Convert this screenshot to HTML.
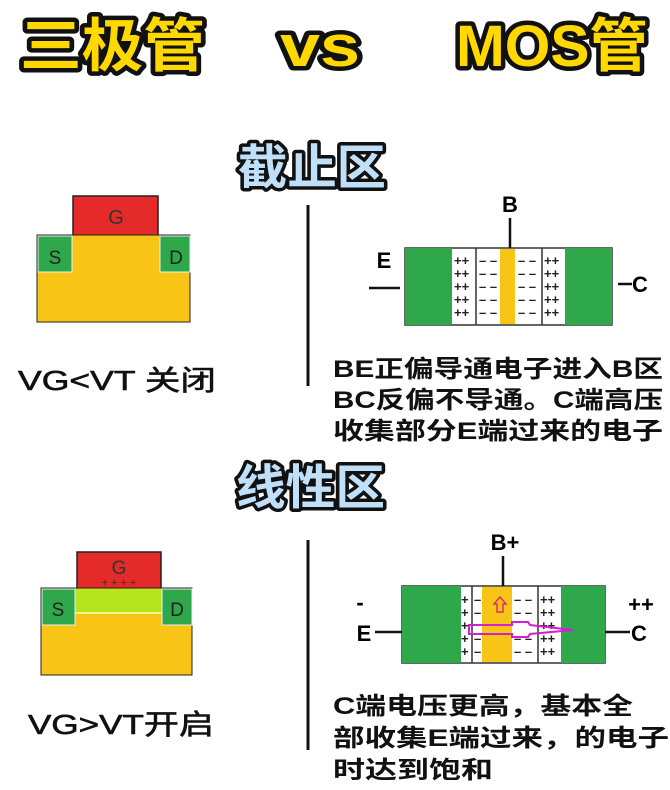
<!DOCTYPE html>
<html><head><meta charset="utf-8"><style>
html,body{margin:0;padding:0;background:#fff;}
svg{display:block;}
.t{font-family:"Liberation Sans","Noto Sans CJK SC",sans-serif;font-weight:bold;}
.cn{font-family:"Liberation Sans","Noto Sans CJK SC",sans-serif;}
</style></head><body>
<svg width="670" height="790" viewBox="0 0 670 790" xmlns="http://www.w3.org/2000/svg">
<rect width="670" height="790" fill="#fff"/>
<g class="t" font-size="58" fill="#FFD800" stroke="#111" stroke-width="9" stroke-linejoin="round" paint-order="stroke">
<text x="20" y="66" textLength="185" lengthAdjust="spacingAndGlyphs">三极管</text>
<text x="280" y="66" textLength="80" lengthAdjust="spacingAndGlyphs">vs</text>
<text x="456" y="66" textLength="192" lengthAdjust="spacingAndGlyphs">MOS管</text>
</g>
<g class="t" font-size="48" fill="#BFE0F8" stroke="#111" stroke-width="7" stroke-linejoin="round" paint-order="stroke">
<text x="238" y="184" textLength="148" lengthAdjust="spacingAndGlyphs">截止区</text>
<text x="236" y="504" textLength="149" lengthAdjust="spacingAndGlyphs">线性区</text>
</g>

<rect x="73" y="196" width="85" height="40" fill="#E52A2A" stroke="#222" stroke-width="1.5"/>
<text class="cn" x="116" y="224" font-size="20" text-anchor="middle" fill="#333">G</text>
<rect x="37" y="235" width="153" height="87" fill="#F8C416" stroke="#222" stroke-width="1"/>
<rect x="38" y="236" width="34" height="36" fill="#2EA84A" stroke="#eee" stroke-width="1"/>
<rect x="160" y="236" width="30" height="36" fill="#2EA84A" stroke="#eee" stroke-width="1"/>
<text class="cn" x="55" y="264" font-size="19" text-anchor="middle" fill="#222">S</text>
<text class="cn" x="176" y="264" font-size="19" text-anchor="middle" fill="#222">D</text>
<text class="cn" x="18" y="390" font-size="28" fill="#111" stroke="#111" stroke-width="0.6" textLength="198" lengthAdjust="spacingAndGlyphs">VG&lt;VT 关闭</text>

<line x1="308" y1="205" x2="308" y2="386" stroke="#111" stroke-width="3"/>

<rect x="405" y="248" width="207" height="77" fill="#fff" stroke="#333" stroke-width="1.5"/>
<rect x="405" y="248" width="47" height="77" fill="#2EA84A"/>
<rect x="565" y="248" width="47" height="77" fill="#2EA84A"/>
<rect x="500" y="249" width="15" height="75" fill="#F8C416"/>
<line x1="476" y1="248" x2="476" y2="325" stroke="#333" stroke-width="1.5"/>
<line x1="542" y1="248" x2="542" y2="325" stroke="#333" stroke-width="1.5"/>
<g font-family="Liberation Sans" font-weight="bold" font-size="13" fill="#222">
<text x="454" y="265">++</text><text x="454" y="278">++</text><text x="454" y="291">++</text><text x="454" y="304">++</text><text x="454" y="317">++</text>
<text x="544" y="265">++</text><text x="544" y="278">++</text><text x="544" y="291">++</text><text x="544" y="304">++</text><text x="544" y="317">++</text>
<text x="479" y="265">– –</text><text x="479" y="278">– –</text><text x="479" y="291">– –</text><text x="479" y="304">– –</text><text x="479" y="317">– –</text>
<text x="518" y="265">– –</text><text x="518" y="278">– –</text><text x="518" y="291">– –</text><text x="518" y="304">– –</text><text x="518" y="317">– –</text>
</g>
<line x1="510" y1="218" x2="510" y2="248" stroke="#111" stroke-width="2.5"/>
<text class="t" x="510" y="212" font-size="22" text-anchor="middle">B</text>
<text class="t" x="384" y="268" font-size="22" text-anchor="middle">E</text>
<line x1="369" y1="288" x2="400" y2="288" stroke="#111" stroke-width="2.5"/>
<line x1="618" y1="284" x2="632" y2="284" stroke="#111" stroke-width="2.5"/>
<text class="t" x="632" y="292" font-size="22">C</text>

<g class="t" font-size="24" fill="#111">
<text x="333" y="377" textLength="330" lengthAdjust="spacingAndGlyphs">BE正偏导通电子进入B区</text>
<text x="333" y="408" textLength="330" lengthAdjust="spacingAndGlyphs">BC反偏不导通。C端高压</text>
<text x="333" y="439" textLength="330" lengthAdjust="spacingAndGlyphs">收集部分E端过来的电子</text>
</g>

<rect x="77" y="552" width="84" height="37" fill="#E52A2A" stroke="#222" stroke-width="1.5"/>
<text class="cn" x="119" y="574" font-size="19" text-anchor="middle" fill="#333">G</text>
<text x="119" y="586" font-family="Liberation Sans" font-size="11" text-anchor="middle" fill="#333">+ + + +</text>
<rect x="41" y="588" width="151" height="87" fill="#F8C416" stroke="#222" stroke-width="1"/>
<rect x="72" y="589" width="90" height="24" fill="#B5E61D"/>
<line x1="72" y1="613" x2="162" y2="613" stroke="#ffffaa" stroke-width="1.5"/>
<rect x="42" y="589" width="33" height="36" fill="#2EA84A" stroke="#eee" stroke-width="1"/>
<rect x="162" y="589" width="30" height="36" fill="#2EA84A" stroke="#eee" stroke-width="1"/>
<text class="cn" x="58" y="616" font-size="19" text-anchor="middle" fill="#222">S</text>
<text class="cn" x="177" y="616" font-size="19" text-anchor="middle" fill="#222">D</text>
<text class="cn" x="28" y="734" font-size="28" fill="#111" stroke="#111" stroke-width="0.6" textLength="186" lengthAdjust="spacingAndGlyphs">VG&gt;VT开启</text>

<line x1="308" y1="540" x2="308" y2="750" stroke="#111" stroke-width="3"/>

<rect x="402" y="586" width="203" height="77" fill="#fff" stroke="#333" stroke-width="1.5"/>
<rect x="402" y="586" width="59" height="77" fill="#2EA84A"/>
<rect x="561" y="586" width="44" height="77" fill="#2EA84A"/>
<rect x="482" y="587" width="30" height="75" fill="#F8C416"/>
<line x1="472" y1="586" x2="472" y2="663" stroke="#333" stroke-width="1.5"/>
<line x1="538" y1="586" x2="538" y2="663" stroke="#333" stroke-width="1.5"/>
<g font-family="Liberation Sans" font-weight="bold" font-size="13" fill="#222">
<text x="461" y="604">+</text><text x="461" y="617">+</text><text x="461" y="630">+</text><text x="461" y="643">+</text><text x="461" y="656">+</text>
<text x="474" y="604">–</text><text x="474" y="617">–</text><text x="474" y="643">–</text><text x="474" y="656">–</text>
<text x="514" y="604">– –</text><text x="514" y="617">– –</text><text x="514" y="643">– –</text><text x="514" y="656">– –</text>
<text x="540" y="604">++</text><text x="540" y="617">++</text><text x="540" y="630">++</text><text x="540" y="643">++</text><text x="540" y="656">++</text>
</g>
<path d="M469 625 L512 625 L512 622 L528 622 L530 625 L573 630 L530 634 L528 637 L512 637 L512 634 L469 634 Z" fill="none" stroke="#D020D0" stroke-width="2"/>
<path d="M500 597 L506 604 L503 604 L503 612 L497 612 L497 604 L494 604 Z" fill="none" stroke="#E0306A" stroke-width="1.5"/>
<line x1="503" y1="556" x2="503" y2="586" stroke="#111" stroke-width="2.5"/>
<text class="t" x="505" y="550" font-size="22" text-anchor="middle">B+</text>
<text class="t" x="360" y="610" font-size="22" text-anchor="middle">-</text>
<text class="t" x="641" y="612" font-size="22" text-anchor="middle">++</text>
<text class="t" x="364" y="641" font-size="22" text-anchor="middle">E</text>
<line x1="375" y1="632" x2="402" y2="632" stroke="#111" stroke-width="2.5"/>
<line x1="605" y1="632" x2="630" y2="632" stroke="#111" stroke-width="2.5"/>
<text class="t" x="631" y="641" font-size="22">C</text>

<g class="t" font-size="24" fill="#111">
<text x="333" y="714" textLength="300" lengthAdjust="spacingAndGlyphs">C端电压更高，基本全</text>
<text x="333" y="746" textLength="336" lengthAdjust="spacingAndGlyphs">部收集E端过来，的电子</text>
<text x="333" y="778" textLength="160" lengthAdjust="spacingAndGlyphs">时达到饱和</text>
</g>
</svg>
</body></html>
